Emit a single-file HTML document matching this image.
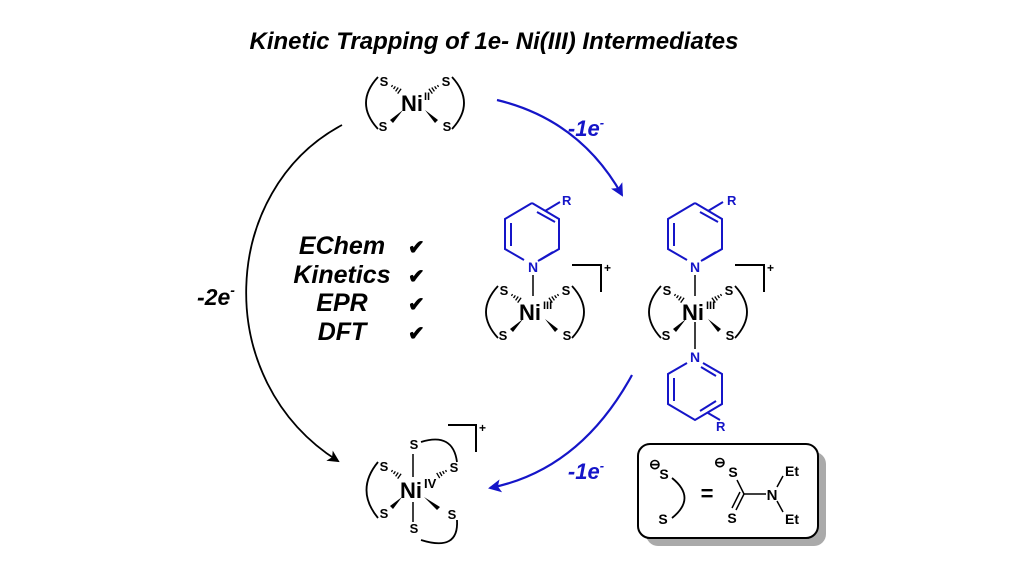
<!DOCTYPE html>
<html><head><meta charset="utf-8"><style>
html,body{margin:0;padding:0;background:#fff;}
svg{display:block;}
text{font-family:"Liberation Sans",Arial,sans-serif;font-weight:bold;}
</style></head><body>
<svg width="1024" height="576" viewBox="0 0 1024 576" xmlns="http://www.w3.org/2000/svg">
<defs>
<marker id="ab" markerWidth="12" markerHeight="12" refX="10" refY="6" orient="auto" markerUnits="userSpaceOnUse" viewBox="0 0 12 12">
<path d="M0,0 L12,6 L0,12 L3,6 Z" fill="#000"/></marker>
<marker id="au" markerWidth="13" markerHeight="13" refX="11" refY="6.5" orient="auto" markerUnits="userSpaceOnUse" viewBox="0 0 13 13">
<path d="M0,0 L13,6.5 L0,13 L3,6.5 Z" fill="#1515c8"/></marker>
<g id="hash" stroke="#000" stroke-width="1.3">
<line x1="0" y1="-1" x2="0" y2="1"/><line x1="3" y1="-1.6" x2="3" y2="1.6"/><line x1="6" y1="-2.3" x2="6" y2="2.3"/><line x1="9" y1="-3" x2="9" y2="3"/>
</g>
<g id="unit">
<text x="-30" y="-17" font-size="13" text-anchor="middle">S</text>
<text x="32" y="-17" font-size="13" text-anchor="middle">S</text>
<text x="-31" y="28" font-size="13" text-anchor="middle">S</text>
<text x="33" y="28" font-size="13" text-anchor="middle">S</text>
<use href="#hash" transform="translate(-22,-17) rotate(35)"/>
<use href="#hash" transform="translate(24,-17) rotate(145)"/>
<path d="M-11,7 L-24,17 L-21,20 Z" fill="#000"/>
<path d="M11,7 L24,17 L21,20 Z" fill="#000"/>
<path d="M-36,-26 Q-60,0 -36,26" fill="none" stroke="#000" stroke-width="1.8"/>
<path d="M38,-26 Q62,0 38,26" fill="none" stroke="#000" stroke-width="1.8"/>
</g>
</defs>

<text x="494" y="49" font-size="24" font-style="italic" text-anchor="middle">Kinetic Trapping of 1e- Ni(III) Intermediates</text>

<!-- top NiII -->
<g transform="translate(414,103)">
<use href="#unit"/>
<text x="-2" y="8" font-size="22" text-anchor="middle">Ni</text>
<text x="10" y="-3" font-size="11">II</text>
</g>

<!-- blue arrow top -->
<path d="M497,100 Q580,120 622,195" fill="none" stroke="#1515c8" stroke-width="2.2" marker-end="url(#au)"/>
<text x="586" y="136" font-size="22" font-style="italic" fill="#1515c8" text-anchor="middle">-1e<tspan font-size="13" dy="-9">-</tspan></text>

<!-- black arrow left -->
<path d="M342,125 C220,190 210,380 338,461" fill="none" stroke="#000" stroke-width="1.8" marker-end="url(#ab)"/>
<text x="216" y="305" font-size="23" font-style="italic" text-anchor="middle">-2e<tspan font-size="14" dy="-10">-</tspan></text>

<g font-size="25" font-style="italic" text-anchor="middle">
<text x="342" y="254">EChem</text>
<text x="342" y="283">Kinetics</text>
<text x="342" y="311">EPR</text>
<text x="342" y="340">DFT</text>
</g>
<g font-size="20" fill="#000">
<text x="408" y="254">✔</text><text x="408" y="283">✔</text><text x="408" y="311">✔</text><text x="408" y="340">✔</text>
</g>

<!-- middle NiIII -->
<g stroke="#1515c8" stroke-width="2" fill="none">
<path d="M532,203 L559,219 L559,249 L540,260 M524,260 L505,249 L505,219 L532,203"/>
<line x1="511" y1="223" x2="511" y2="246"/>
<line x1="537" y1="212" x2="555" y2="222"/>
<line x1="553" y1="252" x2="538" y2="261"/>
<line x1="545" y1="211" x2="560" y2="202"/>
</g>
<text x="562" y="205" font-size="13" fill="#1515c8">R</text>
<text x="533" y="272" font-size="14" fill="#1515c8" text-anchor="middle">N</text>
<line x1="533" y1="275" x2="533" y2="296" stroke="#000" stroke-width="1.5"/>
<g transform="translate(534,312)">
<use href="#unit"/>
<text x="-4" y="8" font-size="22" text-anchor="middle">Ni</text>
<text x="9" y="-3" font-size="11">III</text>
</g>
<path d="M572,265 L601,265 L601,292" fill="none" stroke="#000" stroke-width="2"/>
<text x="604" y="272" font-size="12">+</text>

<!-- right NiIII bis -->
<g stroke="#1515c8" stroke-width="2" fill="none">
<path d="M695,203 L722,219 L722,249 L703,260 M687,260 L668,249 L668,219 L695,203"/>
<line x1="674" y1="223" x2="674" y2="246"/>
<line x1="700" y1="212" x2="718" y2="222"/>
<line x1="716" y1="252" x2="701" y2="261"/>
<line x1="708" y1="211" x2="723" y2="202"/>
<path d="M703,363 L722,374 L722,404 L695,420 L668,404 L668,374 L687,363"/>
<line x1="674" y1="378" x2="674" y2="401"/>
<line x1="701" y1="367" x2="716" y2="376"/>
<line x1="700" y1="411" x2="716" y2="401"/>
<line x1="708" y1="413" x2="720" y2="420"/>
</g>
<text x="727" y="205" font-size="13" fill="#1515c8">R</text>
<text x="695" y="272" font-size="14" fill="#1515c8" text-anchor="middle">N</text>
<text x="695" y="362" font-size="14" fill="#1515c8" text-anchor="middle">N</text>
<text x="716" y="431" font-size="13" fill="#1515c8">R</text>
<line x1="695" y1="275" x2="695" y2="296" stroke="#000" stroke-width="1.5"/>
<line x1="695" y1="322" x2="695" y2="349" stroke="#000" stroke-width="1.5"/>
<g transform="translate(697,312)">
<use href="#unit"/>
<text x="-4" y="8" font-size="22" text-anchor="middle">Ni</text>
<text x="9" y="-3" font-size="11">III</text>
</g>
<path d="M735,265 L764,265 L764,292" fill="none" stroke="#000" stroke-width="2"/>
<text x="767" y="272" font-size="12">+</text>

<!-- blue arrow bottom -->
<path d="M632,375 Q580,470 490,488" fill="none" stroke="#1515c8" stroke-width="2.2" marker-end="url(#au)"/>
<text x="586" y="479" font-size="22" font-style="italic" fill="#1515c8" text-anchor="middle">-1e<tspan font-size="13" dy="-9">-</tspan></text>

<!-- bottom NiIV -->
<g transform="translate(413,490)">
<text x="-29" y="-19" font-size="13" text-anchor="middle">S</text>
<text x="-29" y="28" font-size="13" text-anchor="middle">S</text>
<text x="41" y="-18" font-size="13" text-anchor="middle">S</text>
<text x="39" y="29" font-size="13" text-anchor="middle">S</text>
<text x="1" y="-41" font-size="13" text-anchor="middle">S</text>
<text x="1" y="43" font-size="13" text-anchor="middle">S</text>
<line x1="0" y1="-36" x2="0" y2="-13" stroke="#000" stroke-width="1.5"/>
<line x1="0" y1="12" x2="0" y2="32" stroke="#000" stroke-width="1.5"/>
<use href="#hash" transform="translate(-21,-19) rotate(35)"/>
<use href="#hash" transform="translate(33,-19) rotate(150)"/>
<path d="M-11,7 L-23,16 L-20,19 Z" fill="#000"/>
<path d="M11,7 L27,17 L24,20 Z" fill="#000"/>
<path d="M-35,-28 Q-58,0 -35,28" fill="none" stroke="#000" stroke-width="1.8"/>
<path d="M8,-48 Q40,-58 44,-28" fill="none" stroke="#000" stroke-width="1.8"/>
<path d="M44,30 Q46,62 8,50" fill="none" stroke="#000" stroke-width="1.8"/>
<text x="-2" y="8" font-size="22" text-anchor="middle">Ni</text>
<text x="11" y="-2" font-size="13" font-weight="normal">IV</text>
</g>
<path d="M448,425 L476,425 L476,452" fill="none" stroke="#000" stroke-width="2"/>
<text x="479" y="432" font-size="12">+</text>

<!-- legend box -->
<rect x="646" y="452" width="180" height="94" rx="12" fill="#aaa"/>
<rect x="638" y="444" width="180" height="94" rx="12" fill="#fff" stroke="#000" stroke-width="2"/>
<text x="649" y="469" font-size="14" font-weight="normal">⊖</text>
<text x="664" y="479" font-size="14" text-anchor="middle">S</text>
<text x="663" y="524" font-size="14" text-anchor="middle">S</text>
<path d="M672,478 Q697,498 672,518" fill="none" stroke="#000" stroke-width="1.8"/>
<text x="707" y="501" font-size="22" font-weight="normal" text-anchor="middle">=</text>
<text x="714" y="467" font-size="14" font-weight="normal">⊖</text>
<text x="733" y="477" font-size="14" text-anchor="middle">S</text>
<text x="732" y="523" font-size="14" text-anchor="middle">S</text>
<line x1="737" y1="480" x2="744" y2="494" stroke="#000" stroke-width="1.5"/>
<line x1="744" y1="494" x2="736" y2="510" stroke="#000" stroke-width="1.5"/>
<line x1="740" y1="492" x2="732" y2="508" stroke="#000" stroke-width="1.5"/>
<line x1="744" y1="494" x2="766" y2="494" stroke="#000" stroke-width="1.5"/>
<text x="772" y="500" font-size="15" text-anchor="middle">N</text>
<line x1="777" y1="487" x2="783" y2="476" stroke="#000" stroke-width="1.5"/>
<line x1="777" y1="501" x2="783" y2="512" stroke="#000" stroke-width="1.5"/>
<text x="792" y="476" font-size="14" font-weight="normal" text-anchor="middle">Et</text>
<text x="792" y="524" font-size="14" font-weight="normal" text-anchor="middle">Et</text>
</svg>
</body></html>
